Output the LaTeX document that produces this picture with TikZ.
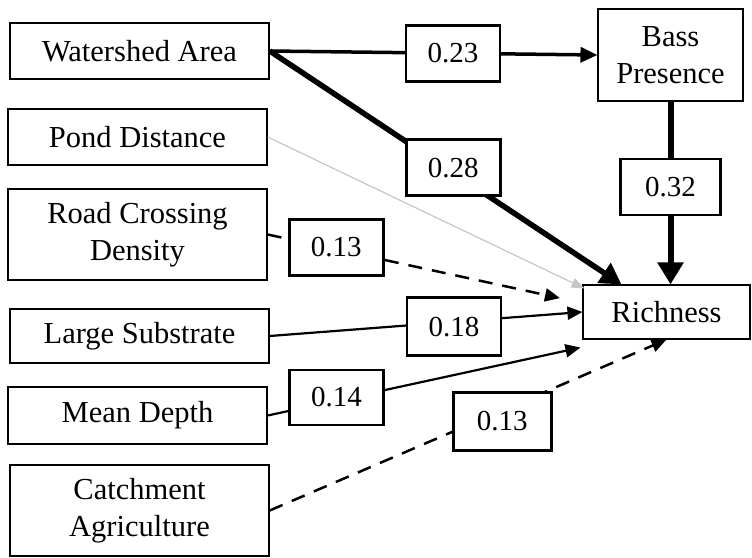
\documentclass[tikz,border=0pt]{standalone}
\usepackage{fontspec}
\setmainfont{Liberation Serif}
\usetikzlibrary{shapes,arrows.meta,positioning,calc}

\begin{document}
\begin{tikzpicture}[x=1pt,y=-1pt,
	var/.style={draw,rectangle,line width=1.4pt,inner sep=0pt,align=center,font=\fontsize{30.5}{37}\selectfont},
	coef/.style={draw,solid,fill=white,rectangle,line width=2.8pt,inner sep=0pt,minimum width=94pt,minimum height=56pt,font=\fontsize{29}{33}\selectfont},
	neg/.style={dash pattern=on 14pt off 10pt,line width=2.5pt}]
	\useasboundingbox (0,0) rectangle (752,557);
	% predictors
	\node[var,minimum width=259pt,minimum height=56pt] (ws) at (139.5,51) {Watershed Area};
	\node[var,minimum width=259pt,minimum height=56pt] (pond) at (137.5,137) {Pond Distance};
	\node[var,minimum width=259pt,minimum height=91pt] (road) at (137.5,234.5) {Road Crossing\\Density};
	\node[var,minimum width=259pt,minimum height=54pt] (sub) at (139.5,336) {Large Substrate};
	\node[var,minimum width=259pt,minimum height=57pt] (depth) at (137.5,415.5) {Mean Depth};
	\node[var,minimum width=259pt,minimum height=91pt] (agri) at (139.5,510.5) {Catchment\\Agriculture};
	% responses
	\node[var,line width=1.1pt,minimum width=145pt,minimum height=92pt] (bass) at (670.5,55) {Bass\\Presence};
	\node[var,line width=1.1pt,minimum width=167pt,minimum height=54pt] (rich) at (666.5,312) {Richness};
	% paths
	\draw[gray!45,line width=1.2pt,-{Triangle[length=13pt,width=10pt]}] (pond.east) -- ($(rich.north west)+(2,4)$);
	\draw[line width=3.5pt,-{Triangle[length=17pt,width=15pt]}] (ws.east) -- node[coef,pos=.559] (c23) {0.23} (bass.west);
	\draw[line width=5.5pt,-{Triangle[length=21pt,width=23pt]}] (ws.east) -- node[coef,pos=.522,yshift=5pt] (c28) {0.28} ($(rich.north)+(-45,0)$);
	\draw[line width=6pt,-{Triangle[length=22pt,width=25pt]}] (bass.south) -- node[coef,pos=.467,minimum width=100pt] (c32) {0.32} (bass.south |- rich.north);
	\draw[neg,-{Triangle[length=15pt,width=13pt]},shorten >=23pt] (road.east) -- node[coef,pos=.218,yshift=2pt] (c13a) {0.13} ($(rich.west)+(0,-9)$);
	\draw[line width=2.2pt,-{Triangle[length=15pt,width=13pt]}] (sub.east) -- node[coef,pos=.589,yshift=-5pt,minimum height=58pt] (c18) {0.18} (rich.west);
	\draw[line width=2.2pt,-{Triangle[length=15pt,width=13pt]}] (depth.east) -- node[coef,pos=.22,yshift=3pt,minimum height=55pt] (c14) {0.14} ($(rich.south west)+(-2,8)$);
	\draw[neg,-{Triangle[length=15pt,width=13pt]}] (agri.east) -- node[coef,pos=.586,yshift=-11pt,minimum width=98pt,minimum height=58pt] (c13b) {0.13} (rich.south);
\end{tikzpicture}
\end{document}
